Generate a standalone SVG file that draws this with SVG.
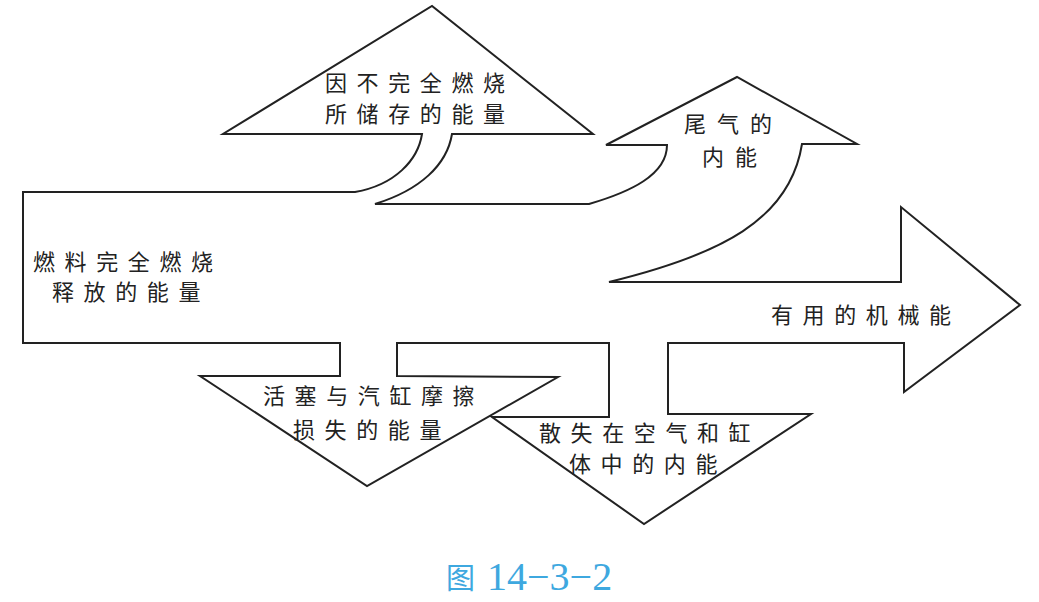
<svg xmlns="http://www.w3.org/2000/svg" width="1039" height="602" viewBox="0 0 1039 602">
<style>
.flow{fill:#fff;stroke:#222;stroke-width:2;stroke-linejoin:miter}
.lbl{font-family:"Noto Sans CJK SC","Noto Sans CJK JP",sans-serif;font-size:22px;fill:#222;letter-spacing:9.6px}
.cap{fill:#3ea8df}
</style>
<rect width="1039" height="602" fill="#fff"/>
<g id="connectors">
<path class="flow" d="M23,192 L355,192 C395,185 418,160 422,134 L223,134 L432,6 L593,134 L452,134 C447,165 420,190 375,204 L589,204 C630,192 667,175 667,145 L606,145 L737,77 L857,144 L802,144 C790,220 720,255 609,282 L901,282 L901,207 L1020,305 L904,392 L904,343 L668,343 L668,414 L811,414 L644,524 L492,417 L609,417 L609,343 L397,343 L397,376 L558,377 L367,486 L200,376 L340,376 L340,343 L23,343 Z"/>
</g>
<g id="node-source">
<text class="lbl" x="33" y="270">燃料完全燃烧</text>
<text class="lbl" x="52" y="300">释放的能量</text>
</g>
<g id="node-incomplete">
<text class="lbl" x="325" y="91">因不完全燃烧</text>
<text class="lbl" x="325" y="122">所储存的能量</text>
</g>
<g id="node-exhaust">
<text class="lbl" x="684" y="132" style="letter-spacing:11px">尾气的</text>
<text class="lbl" x="702" y="165" style="letter-spacing:11px">内能</text>
</g>
<g id="node-useful">
<text class="lbl" x="771" y="323">有用的机械能</text>
</g>
<g id="node-friction">
<text class="lbl" x="263" y="404">活塞与汽缸摩擦</text>
<text class="lbl" x="293" y="438">损失的能量</text>
</g>
<g id="node-heat">
<text class="lbl" x="539" y="441">散失在空气和缸</text>
<text class="lbl" x="569" y="472">体中的内能</text>
</g>
<g id="caption">
<text class="cap" x="446" y="589" style="font-family:'Noto Sans CJK SC',sans-serif;font-size:29px">图</text>
<text class="cap" x="487" y="590" style="font-family:'Liberation Serif',serif;font-size:40px">14<tspan>−</tspan>3<tspan>−</tspan>2</text>
</g>
</svg>
